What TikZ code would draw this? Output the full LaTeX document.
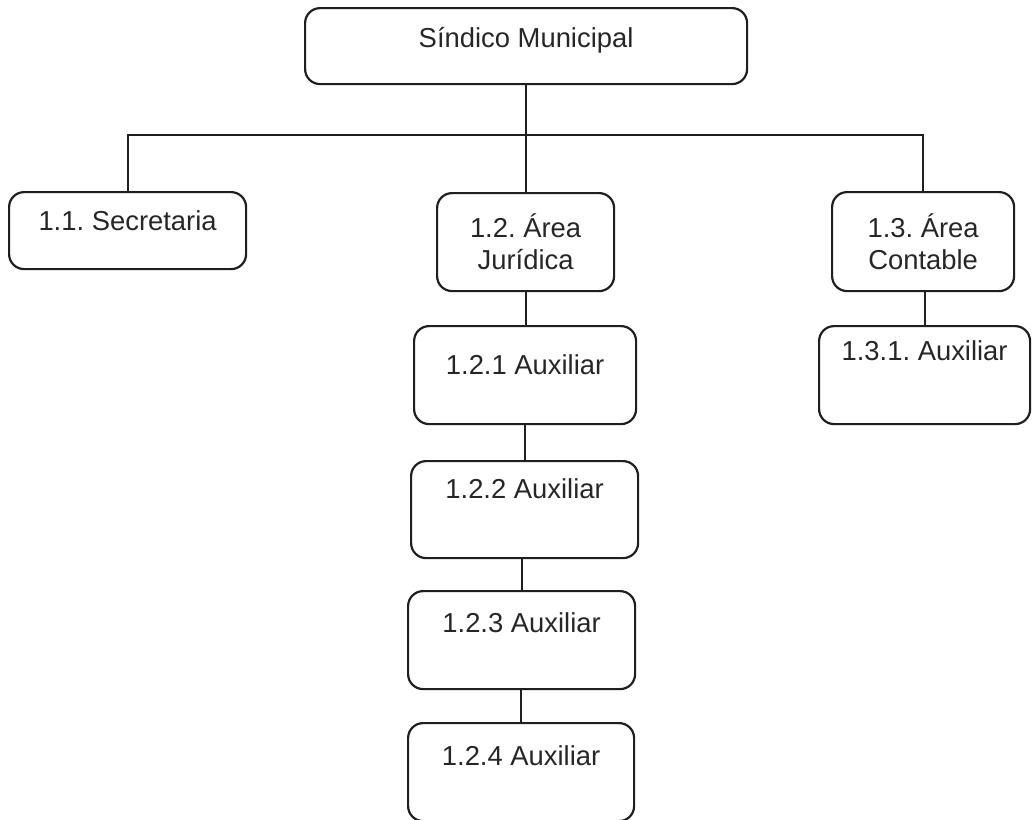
\documentclass[tikz,border=0pt]{standalone}
\usepackage{fontspec}
\setmainfont{Liberation Sans}
\frenchspacing
\begin{document}
\begin{tikzpicture}[x=1pt,y=-1pt,
  box/.style={draw=black!88, line width=2.2pt, rounded corners=15pt, anchor=north west, inner sep=0pt},
  lbl/.style={anchor=base, inner sep=0pt, text=black!85, font=\fontsize{27.4}{31}\selectfont},
  lbl2/.style={anchor=center, inner sep=0pt, text=black!85, align=center, font=\fontsize{27.4}{32}\selectfont},
  conn/.style={draw=black!88, line width=2pt}]
\useasboundingbox (0,0) rectangle (1032,819);
% boxes
\node[box, minimum width=442pt, minimum height=76pt] (top) at (304,7) {};
\node[box, minimum width=237pt, minimum height=77pt] (b11) at (8,191) {};
\node[box, minimum width=177pt, minimum height=98pt] (b12) at (436,192) {};
\node[box, minimum width=182pt, minimum height=99pt] (b13) at (831,191) {};
\node[box, minimum width=222pt, minimum height=98pt] (b121) at (413,325) {};
\node[box, minimum width=227pt, minimum height=97pt] (b122) at (410,460) {};
\node[box, minimum width=227pt, minimum height=98pt] (b123) at (407,590) {};
\node[box, minimum width=226pt, minimum height=98pt] (b124) at (407,722) {};
\node[box, minimum width=211pt, minimum height=98pt] (b131) at (818,325) {};
% texts
\node[lbl] (t0) at ([yshift=-40pt]top.north) {Síndico Municipal};
\node[lbl] (t11) at ([yshift=-39pt]b11.north) {1.1. Secretaria};
\node[lbl2] (t12) at (b12.center) {1.2. Área\\Jurídica};
\node[lbl2] (t13) at (b13.center) {1.3. Área\\Contable};
\node[lbl] (t121) at ([yshift=-49pt]b121.north) {1.2.1 Auxiliar};
\node[lbl] (t122) at ([yshift=-38pt]b122.north) {1.2.2 Auxiliar};
\node[lbl] (t123) at ([yshift=-42pt]b123.north) {1.2.3 Auxiliar};
\node[lbl] (t124) at ([yshift=-43pt]b124.north) {1.2.4 Auxiliar};
\node[lbl] (t131) at ([yshift=-35pt]b131.north) {1.3.1. Auxiliar};
% connectors
\coordinate (bus) at (525,135);
\draw[conn] (top.south) -- (top.south |- b12.north);
\draw[conn] (b11.north) |- (bus) -| (b13.north);
\draw[conn] (b12.south) -- (b12.south |- b121.north);
\draw[conn] (b122.north) -- (b122.north |- b121.south);
\draw[conn] (b123.north) -- (b123.north |- b122.south);
\draw[conn] (b124.north) -- (b124.north |- b123.south);
\draw[conn] (b131.north) -- (b131.north |- b13.south);
\end{tikzpicture}
\end{document}
